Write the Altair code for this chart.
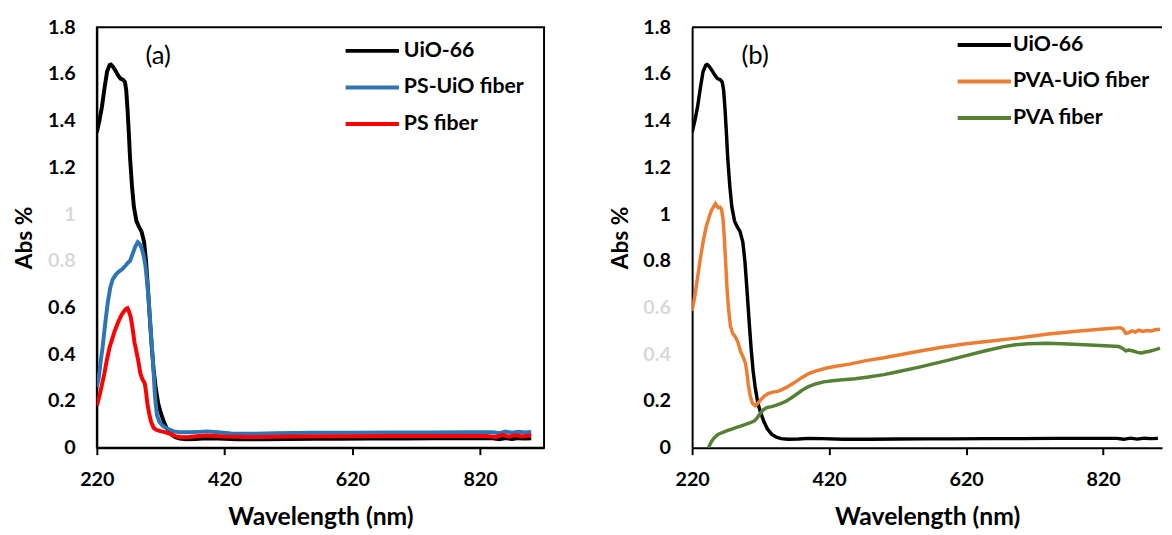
import altair as alt
import pandas as pd

FONT = "Lato"

# ---------------- data ----------------
uio_nm = [220, 224, 228, 232, 236, 240, 242, 245, 249, 253, 257, 261, 264, 266, 268, 270, 272, 275, 278,
          282, 286, 290, 294, 297, 300, 303, 306, 309, 312, 316, 320, 325, 330, 336, 343, 350, 360, 375,
          390, 410, 440, 480, 520, 560, 600, 650, 700, 750, 800, 840, 850, 860, 870, 880, 890, 900]
uio_abs = [1.35, 1.40, 1.46, 1.54, 1.61, 1.638, 1.64, 1.632, 1.615, 1.595, 1.58, 1.575, 1.565, 1.53, 1.45,
           1.35, 1.24, 1.12, 1.03, 0.97, 0.945, 0.925, 0.88, 0.80, 0.68, 0.55, 0.43, 0.33, 0.26, 0.19,
           0.15, 0.11, 0.08, 0.058, 0.045, 0.039, 0.036, 0.037, 0.040, 0.039, 0.036, 0.036, 0.037, 0.038,
           0.038, 0.039, 0.039, 0.040, 0.040, 0.040, 0.036, 0.041, 0.037, 0.041, 0.039, 0.040]

psuio_nm = [220, 223, 226, 229, 233, 237, 241, 245, 250, 255, 260, 265, 268, 272, 276, 280, 284, 287, 290,
            293, 296, 299, 302, 305, 308, 311, 314, 318, 323, 330, 340, 350, 365, 380, 393, 410, 430, 460,
            500, 560, 620, 680, 740, 800, 840, 850, 860, 870, 880, 890, 900]
psuio_abs = [0.26, 0.30, 0.37, 0.43, 0.53, 0.62, 0.685, 0.722, 0.742, 0.755, 0.765, 0.78, 0.79, 0.80, 0.83,
             0.86, 0.88, 0.872, 0.855, 0.825, 0.78, 0.70, 0.60, 0.48, 0.36, 0.22, 0.14, 0.11, 0.094,
             0.082, 0.07, 0.066, 0.066, 0.068, 0.070, 0.066, 0.061, 0.060, 0.062, 0.064, 0.064, 0.065,
             0.065, 0.066, 0.066, 0.062, 0.069, 0.064, 0.068, 0.065, 0.067]

ps_nm = [220, 224, 228, 232, 236, 240, 244, 248, 253, 258, 262, 266, 268, 270, 273, 276, 279, 282, 285,
         288, 291, 295, 297, 299, 302, 305, 309, 313, 318, 323, 330, 336, 343, 351, 365, 380, 393, 420,
         460, 520, 600, 680, 760, 830, 845, 855, 865, 875, 885, 895, 900]
ps_abs = [0.18, 0.22, 0.27, 0.32, 0.38, 0.43, 0.465, 0.50, 0.535, 0.565, 0.582, 0.595, 0.597, 0.585, 0.56,
          0.51, 0.45, 0.41, 0.37, 0.32, 0.295, 0.275, 0.24, 0.19, 0.145, 0.11, 0.085, 0.077, 0.072, 0.069,
          0.064, 0.058, 0.05, 0.045, 0.046, 0.05, 0.052, 0.048, 0.046, 0.048, 0.049, 0.050, 0.050, 0.050,
          0.046, 0.055, 0.047, 0.054, 0.048, 0.052, 0.050]

pvauio_nm = [220, 224, 228, 232, 236, 240, 244, 248, 251, 254, 256, 258, 261, 263, 265, 267, 269, 271, 273,
             276, 279, 283, 287, 291, 295, 298, 300, 302, 305, 308, 312, 316, 320, 325, 331, 338, 345, 352,
             360, 370, 380, 390, 400, 415, 430, 450, 472, 500, 545, 580, 620, 660, 690, 740, 785, 820, 845,
             849, 853, 857, 862, 867, 872, 878, 884, 890, 896, 903]
pvauio_abs = [0.585, 0.65, 0.73, 0.81, 0.88, 0.94, 0.98, 1.015, 1.03, 1.045, 1.035, 1.028, 1.03, 1.02, 0.98,
              0.90, 0.79, 0.68, 0.60, 0.52, 0.49, 0.475, 0.45, 0.41, 0.385, 0.36, 0.32, 0.27, 0.22, 0.19,
              0.18, 0.19, 0.205, 0.22, 0.232, 0.238, 0.241, 0.25, 0.262, 0.28, 0.30, 0.317, 0.328, 0.34,
              0.349, 0.358, 0.372, 0.385, 0.41, 0.428, 0.445, 0.458, 0.468, 0.487, 0.50, 0.508, 0.514,
              0.508, 0.49, 0.492, 0.50, 0.495, 0.503, 0.498, 0.502, 0.50, 0.505, 0.507]

pva_nm = [244, 247, 251, 255, 259, 265, 271, 278, 285, 292, 299, 305, 311, 315, 319, 324, 329, 336, 343,
          350, 357, 364, 372, 380, 390, 400, 412, 425, 440, 458, 475, 500, 520, 550, 593, 620, 650, 675,
          690, 710, 737, 760, 785, 815, 843, 848, 853, 858, 864, 870, 876, 882, 888, 894, 900, 903]
pva_abs = [0.0, 0.02, 0.038, 0.05, 0.059, 0.066, 0.073, 0.08, 0.087, 0.094, 0.101, 0.107, 0.115, 0.128,
           0.145, 0.162, 0.172, 0.176, 0.182, 0.19, 0.199, 0.212, 0.228, 0.245, 0.262, 0.273, 0.282, 0.287,
           0.291, 0.295, 0.302, 0.313, 0.325, 0.344, 0.374, 0.394, 0.416, 0.433, 0.44, 0.445, 0.447, 0.445,
           0.442, 0.438, 0.433, 0.426, 0.415, 0.418, 0.414, 0.408, 0.406, 0.41, 0.413, 0.418, 0.423, 0.426]

left_series = ["UiO-66", "PS-UiO fiber", "PS fiber"]
left_colors = ["#000000", "#2E75B6", "#FF0000"]
right_series = ["UiO-66", "PVA-UiO fiber", "PVA fiber"]
right_colors = ["#000000", "#ED7D31", "#548235"]

y_ticks = [0, 0.2, 0.4, 0.6, 0.8, 1, 1.2, 1.4, 1.6, 1.8]
x_ticks = [220, 420, 620, 820]
left_grey = [0.8, 1]
right_grey = [0.4, 0.6]


def frame(nm, ab, name):
    return pd.DataFrame({"nm": nm, "abs": ab, "series": name})


left_df = pd.concat([frame(uio_nm, uio_abs, left_series[0]),
                     frame(psuio_nm, psuio_abs, left_series[1]),
                     frame(ps_nm, ps_abs, left_series[2])], ignore_index=True)
right_df = pd.concat([frame(uio_nm, uio_abs, right_series[0]),
                      frame(pvauio_nm, pvauio_abs, right_series[1]),
                      frame(pva_nm, pva_abs, right_series[2])], ignore_index=True)


def grey_expr(vals):
    cond = " || ".join(f"abs(datum.value - {v}) < 1e-6" for v in vals)
    return alt.ExprRef(expr=f"({cond}) ? '#d9d9d9' : '#000000'")


def x_axis():
    return alt.Axis(values=x_ticks, title="Wavelength (nm)", grid=False, labelFlush=False,
                    labelFont=FONT, labelFontSize=20, labelFontWeight="bold", labelColor="black",
                    labelPadding=15, ticks=True, tickSize=7, tickWidth=2, tickColor="black",
                    domainColor="black", domainWidth=2,
                    titleFont=FONT, titleFontSize=25, titleFontWeight="bold", titleColor="black",
                    titlePadding=16)


def y_axis(grey):
    return alt.Axis(values=y_ticks, format="~g", title="Abs %", grid=False, ticks=False,
                    labelFlush=False,
                    labelFont=FONT, labelFontSize=20, labelFontWeight="bold",
                    labelColor=grey_expr(grey), labelPadding=22,
                    domainColor="black", domainWidth=2,
                    titleFont=FONT, titleFontSize=23, titleFontWeight="bold", titleColor="black",
                    titlePadding=11)


def legend(lx, ly, off):
    return alt.Legend(orient="none", legendX=lx, legendY=ly, title=None,
                      symbolType="M-1.5,0L1.5,0", symbolSize=1296, symbolStrokeWidth=4,
                      labelFont=FONT, labelFontSize=21.5, labelFontWeight="bold", labelColor="black",
                      labelOffset=off, rowPadding=6, padding=0)


def panel(df, series, colors, xmax, grey, leg, label, label_x, sw):
    base = alt.Chart(df)
    lines = base.mark_line(strokeWidth=sw, clip=True).encode(
        x=alt.X("nm:Q", scale=alt.Scale(domain=[220, xmax], nice=False, zero=False), axis=x_axis()),
        y=alt.Y("abs:Q", scale=alt.Scale(domain=[0, 1.8], nice=False, zero=False), axis=y_axis(grey)),
        color=alt.Color("series:N", scale=alt.Scale(domain=series, range=colors),
                        sort=series, legend=leg),
    )
    tag = alt.Chart(pd.DataFrame({"t": [label]})).mark_text(
        font=FONT, fontSize=26, color="black", align="center", baseline="middle"
    ).encode(x=alt.datum(label_x), y=alt.datum(1.675), text="t:N")
    return lines, tag


l_lines, l_tag = panel(left_df, left_series, left_colors, 920, left_grey,
                       legend(259, 4, 12), "(a)", 316, 4)
left = alt.layer(l_lines, l_tag).properties(
    width=453, height=426, view=alt.ViewBackground(stroke="black", strokeWidth=2))

r_lines, r_tag = panel(right_df, right_series, right_colors, 906, right_grey,
                       legend(276, -2, 9), "(b)", 312, 3.5)
top_border = alt.Chart(pd.DataFrame({"y": [1.8]})).mark_rule(color="black", strokeWidth=2).encode(
    y=alt.Y("y:Q"))
right = alt.layer(r_lines, r_tag, top_border).properties(
    width=476, height=426, view=alt.ViewBackground(stroke="transparent"))

chart = alt.hconcat(left, right, spacing=64).resolve_scale(color="independent").resolve_legend(
    color="independent").properties(
    padding={"left": 5, "top": 5, "right": 0, "bottom": 5}
).configure(font=FONT, background="white")

chart.save("out.html", embed_options={"renderer": "svg", "actions": False})
